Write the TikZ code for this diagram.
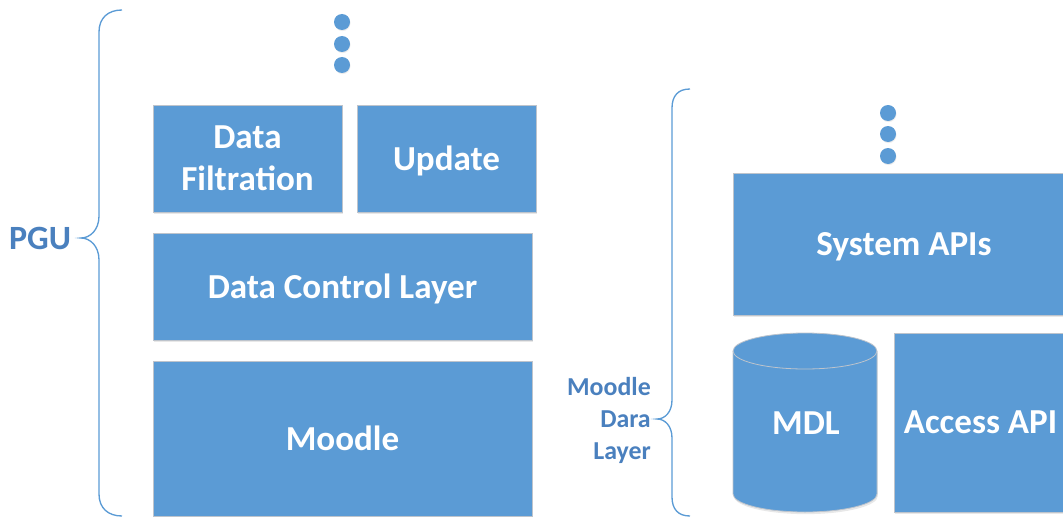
\documentclass[tikz,border=0pt]{standalone}
\usepackage{fontspec}
\setmainfont{Carlito}
\usetikzlibrary{shadows}
\definecolor{boxblue}{HTML}{5B9BD5}
\definecolor{labelblue}{RGB}{74,128,190}
\definecolor{edgegray}{RGB}{190,196,204}
\tikzset{
  layerbox/.style={rectangle, fill=boxblue, draw=edgegray, line width=0.6pt, inner sep=0pt,
    text=white, font=\bfseries\fontsize{26.3}{31.5}\selectfont, align=center,
    drop shadow={opacity=0.18, shadow xshift=0.6pt, shadow yshift=-1.6pt}},
  onetext/.style={text depth=0pt},
  dotnode/.style={circle, fill=boxblue, inner sep=0pt, minimum size=12pt,
    drop shadow={opacity=0.15, shadow xshift=0.4pt, shadow yshift=-0.8pt}},
  bracepath/.style={draw=boxblue, line width=1pt},
  sidelabel/.style={text=labelblue, font=\bfseries, inner sep=0pt}
}
\begin{document}
\begin{tikzpicture}[x=0.75pt, y=-0.75pt]
\useasboundingbox (0,0) rectangle (1063,517);

% left stack
\node[dotnode] (ld1) at (342,22) {};
\node[dotnode] (ld2) at (342,44) {};
\node[dotnode] (ld3) at (342,65) {};
\node[layerbox, minimum width=141.75pt, minimum height=80.25pt] (filt) at (247.5,158.5) {Data\\Filtration};
\node[layerbox, onetext, minimum width=134.25pt, minimum height=80.25pt] (upd) at (446.5,158.5) {Update};
\node[layerbox, onetext, minimum width=284.25pt, minimum height=80.25pt] (dcl) at (342.5,286.5) {Data Control Layer};
\node[layerbox, onetext, minimum width=284.25pt, minimum height=116.25pt] (moodle) at (342.5,438.5) {Moodle};

% left brace and label
\draw[bracepath] (122,10) .. controls (108,10) and (99,18) .. (99,32) -- (99,216)
  .. controls (99,230) and (90,238) .. (81,238)
  .. controls (90,238) and (99,246) .. (99,260) -- (99,494)
  .. controls (99,508) and (108,516) .. (122,516);
\node[sidelabel, font=\bfseries\fontsize{25.5}{28}\selectfont] (pgu) at (40,238) {PGU};

% right stack
\node[dotnode] (rd1) at (888,113) {};
\node[dotnode] (rd2) at (888,134) {};
\node[dotnode] (rd3) at (888,156) {};
\node[layerbox, onetext, minimum width=256.5pt, minimum height=106.5pt] (sys) at (904,244) {System APIs};
\node[layerbox, onetext, minimum width=129.75pt, minimum height=134.25pt] (acc) at (980.5,422.5) {Access API};

% MDL cylinder
\fill[boxblue, drop shadow={opacity=0.18, shadow xshift=0.6pt, shadow yshift=-1.6pt}]
  (733,351) -- (733,494) arc[start angle=180, end angle=360, x radius=54pt, y radius=13.5pt]
  -- (877,351) arc[start angle=0, end angle=180, x radius=54pt, y radius=13.5pt] -- cycle;
\draw[edgegray, line width=0.6pt] (805,351) ellipse [x radius=54pt, y radius=13.5pt];
\draw[edgegray, line width=0.6pt] (733,351) -- (733,494) arc[start angle=180, end angle=360, x radius=54pt, y radius=13.5pt] -- (877,351);
\node[text=white, font=\bfseries\fontsize{26.3}{31.5}\selectfont, inner sep=0pt] (mdl) at (806,423) {MDL};

% right brace and label
\draw[bracepath] (690,89) .. controls (678,89) and (672,96) .. (672,108) -- (672,400)
  .. controls (672,412) and (665,419) .. (657,419)
  .. controls (665,419) and (672,426) .. (672,438) -- (672,497)
  .. controls (672,509) and (678,516) .. (690,516);
\node[sidelabel, font=\bfseries\fontsize{19.4}{24}\selectfont, align=right, anchor=east] (mdlayer) at (651,420) {Moodle\\Dara\\Layer};
\end{tikzpicture}
\end{document}
